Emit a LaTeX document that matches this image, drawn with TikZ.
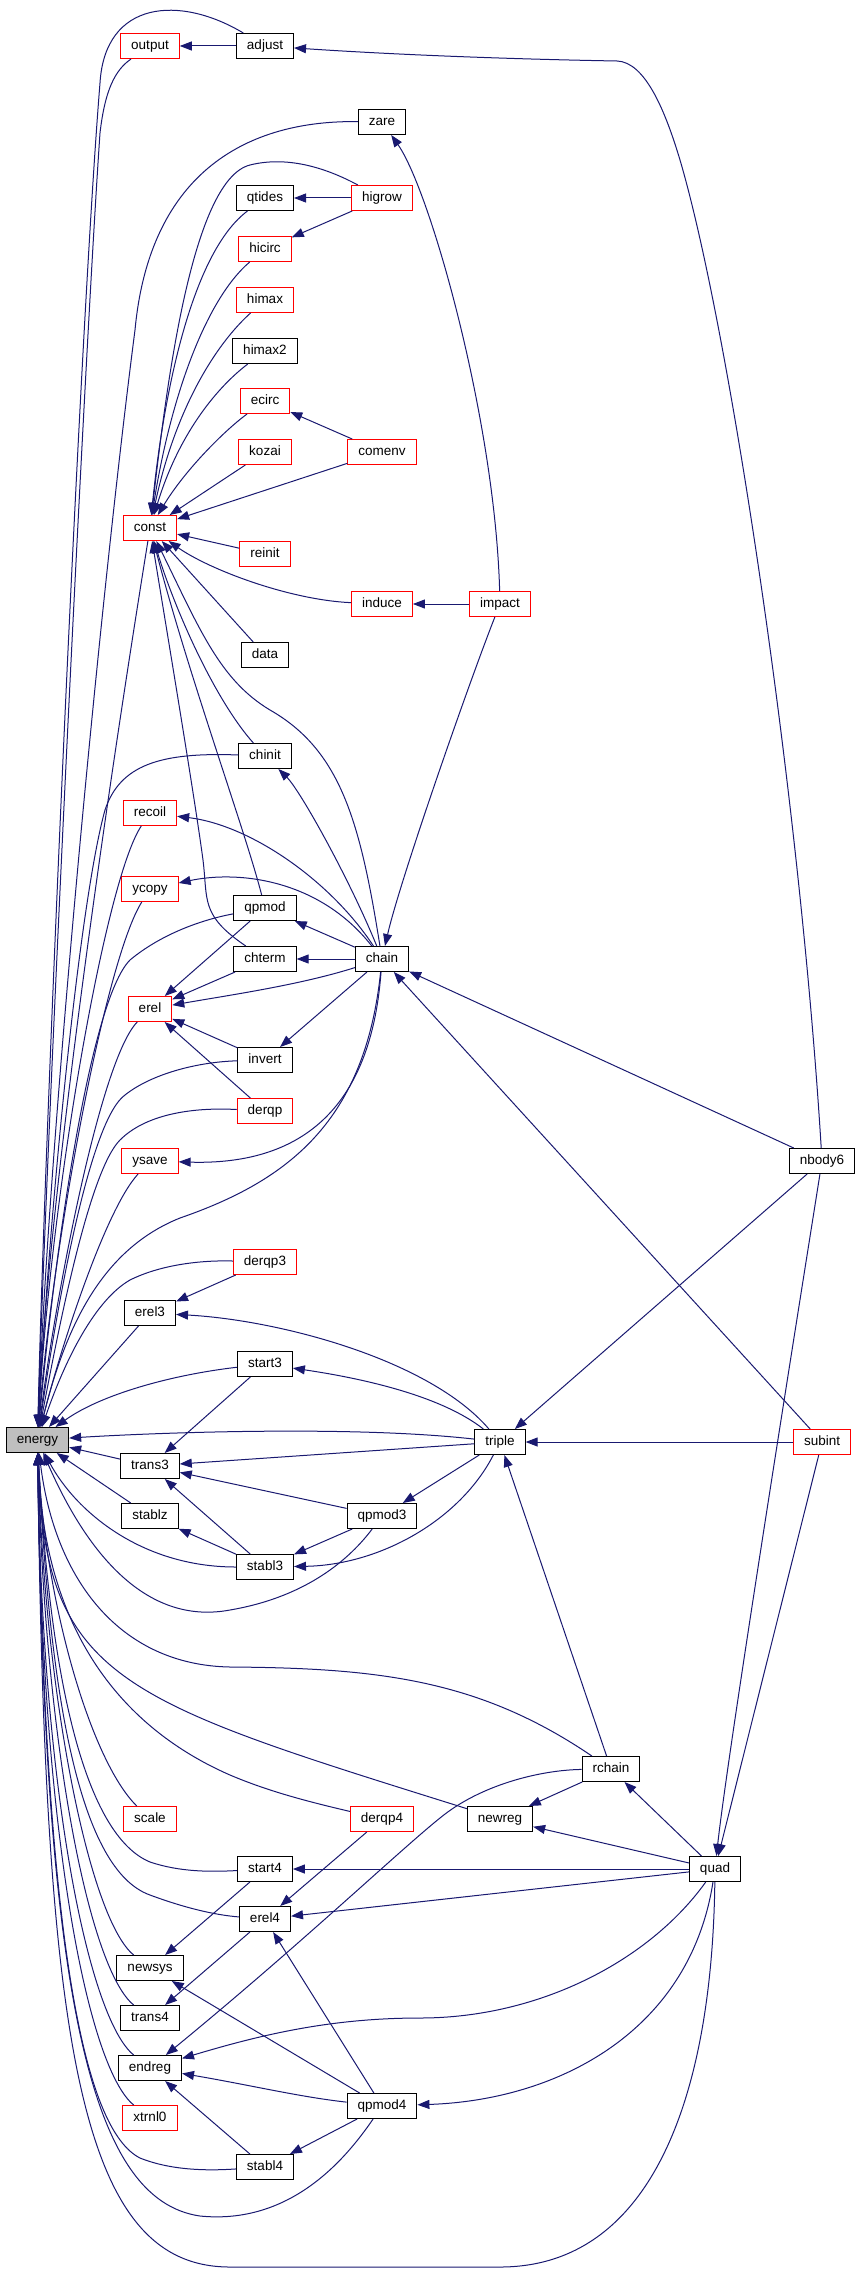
\documentclass[tikz,border=0pt]{standalone}
\usepackage{fontspec}
\newfontfamily\lab{Liberation Sans}
\usetikzlibrary{arrows.meta}
\definecolor{edgec}{HTML}{191970}
\definecolor{fillg}{HTML}{BFBFBF}
\begin{document}
\begin{tikzpicture}[x=1pt,y=-1pt,
 fn/.style={draw=black, line width=1pt, fill=white, minimum height=25pt, inner xsep=10.5pt, inner ysep=0pt, text height=9.5pt, text depth=2.5pt, font=\lab\fontsize{13.5pt}{16pt}\selectfont},
 fr/.style={fn, draw=red},
 fg/.style={fn, fill=fillg},
 ed/.style={draw=edgec, line width=1pt, {Triangle[length=12pt,width=9pt]}-}]
\useasboundingbox (0,0) rectangle (861,2282);
% column 0
\node[fg] (energy) at (37.5,1440) {energy};
% column 1
\node[fr] (output) at (150,46) {output};
\node[fr] (const) at (150,528) {const};
\node[fr] (recoil) at (150,813) {recoil};
\node[fr] (ycopy) at (150,889) {ycopy};
\node[fr] (erel) at (150,1009) {erel};
\node[fr] (ysave) at (150,1161) {ysave};
\node[fn] (erel3) at (150,1313) {erel3};
\node[fn] (trans3) at (150,1466) {trans3};
\node[fn] (stablz) at (150,1516) {stablz};
\node[fr] (scale) at (150,1819) {scale};
\node[fn] (newsys) at (150,1968) {newsys};
\node[fn] (trans4) at (150,2018) {trans4};
\node[fn] (endreg) at (150,2068) {endreg};
\node[fr] (xtrnl0) at (150,2118) {xtrnl0};
% column 2
\node[fn] (adjust) at (265,46) {adjust};
\node[fn] (qtides) at (265,198) {qtides};
\node[fr] (hicirc) at (265,249) {hicirc};
\node[fr] (himax) at (265,300) {himax};
\node[fn] (himax2) at (265,351) {himax2};
\node[fr] (ecirc) at (265,401) {ecirc};
\node[fr] (kozai) at (265,452) {kozai};
\node[fr] (reinit) at (265,554) {reinit};
\node[fn] (data) at (265,655) {data};
\node[fn] (chinit) at (265,756) {chinit};
\node[fn] (qpmod) at (265,908) {qpmod};
\node[fn] (chterm) at (265,959) {chterm};
\node[fn] (invert) at (265,1060) {invert};
\node[fr] (derqp) at (265,1111) {derqp};
\node[fr] (derqp3) at (265,1262) {derqp3};
\node[fn] (start3) at (265,1364) {start3};
\node[fn] (stabl3) at (265,1567) {stabl3};
\node[fn] (start4) at (265,1869) {start4};
\node[fn] (erel4) at (265,1919) {erel4};
\node[fn] (stabl4) at (265,2167) {stabl4};
% column 3
\node[fn] (zare) at (382,122) {zare};
\node[fr] (higrow) at (382,198) {higrow};
\node[fr] (comenv) at (382,452) {comenv};
\node[fr] (induce) at (382,604) {induce};
\node[fn] (chain) at (382,959) {chain};
\node[fn] (qpmod3) at (382,1516) {qpmod3};
\node[fr] (derqp4) at (382,1819) {derqp4};
\node[fn] (qpmod4) at (382,2106) {qpmod4};
% column 4+
\node[fr] (impact) at (500,604) {impact};
\node[fn] (triple) at (500,1442) {triple};
\node[fn] (newreg) at (500,1819) {newreg};
\node[fn] (rchain) at (611,1769) {rchain};
\node[fn] (quad) at (715,1869) {quad};
\node[fn] (nbody6) at (822,1161) {nbody6};
\node[fr] (subint) at (822,1442) {subint};

% ---- callers of energy
\draw[ed] (energy) .. controls (44,1150) and (80,330) .. (100,83) .. controls (105,0) and (180,-5) .. (adjust);
\draw[ed] (energy) .. controls (46,1150) and (85,350) .. (100,133) .. controls (105,90) and (115,70) .. (output);
\draw[ed] (energy) .. controls (48,1150) and (100,600) .. (135,330) .. controls (150,170) and (250,120) .. (zare);
\draw[ed] (energy) .. controls (45,1250) and (90,900) .. (const);
\draw[ed] (energy) .. controls (50,1200) and (80,900) .. (105,810) .. controls (120,765) and (160,752) .. (chinit);
\draw[ed] (energy) .. controls (50,1200) and (105,880) .. (recoil);
\draw[ed] (energy) .. controls (52,1250) and (105,960) .. (ycopy);
\draw[ed] (energy) .. controls (55,1250) and (90,1000) .. (130,960) .. controls (160,935) and (200,920) .. (qpmod);
\draw[ed] (energy) .. controls (55,1300) and (100,1060) .. (erel);
\draw[ed] (energy) .. controls (58,1300) and (90,1120) .. (125,1095) .. controls (150,1075) and (195,1062) .. (invert);
\draw[ed] (energy) .. controls (60,1320) and (90,1170) .. (120,1140) .. controls (145,1115) and (190,1107) .. (derqp);
\draw[ed] (energy) .. controls (60,1350) and (105,1210) .. (ysave);
\draw[ed] (energy) .. controls (65,1330) and (100,1250) .. (180,1218) .. controls (290,1180) and (365,1120) .. (chain);
\draw[ed] (energy) .. controls (65,1360) and (95,1300) .. (130,1280) .. controls (160,1265) and (200,1260) .. (derqp3);
\draw[ed] (energy) -- (erel3);
\draw[ed] (energy) .. controls (100,1395) and (170,1375) .. (start3);
\draw[ed] (energy) .. controls (150,1433) and (350,1425) .. (triple);
\draw[ed] (energy) -- (trans3);
\draw[ed] (energy) -- (stablz);
\draw[ed] (energy) .. controls (75,1510) and (140,1567) .. (stabl3);
\draw[ed] (energy) .. controls (90,1560) and (150,1625) .. (230,1610) .. controls (300,1598) and (345,1565) .. (qpmod3);
\draw[ed] (energy) .. controls (55,1580) and (120,1665) .. (230,1667) .. controls (380,1668) and (480,1680) .. (rchain);
\draw[ed] (energy) .. controls (45,1680) and (120,1700) .. (newreg);
\draw[ed] (energy) .. controls (45,1660) and (150,1740) .. (230,1775) .. controls (270,1792) and (310,1802) .. (derqp4);
\draw[ed] (energy) .. controls (45,1600) and (90,1760) .. (scale);
\draw[ed] (energy) .. controls (50,1680) and (85,1835) .. (150,1862) .. controls (180,1872) and (210,1872) .. (start4);
\draw[ed] (energy) .. controls (50,1700) and (80,1870) .. (150,1895) .. controls (185,1908) and (215,1915) .. (erel4);
\draw[ed] (energy) .. controls (45,1700) and (90,1920) .. (newsys);
\draw[ed] (energy) .. controls (45,1750) and (90,1970) .. (trans4);
\draw[ed] (energy) .. controls (42,1800) and (90,2020) .. (endreg);
\draw[ed] (energy) .. controls (42,1850) and (90,2070) .. (xtrnl0);
\draw[ed] (energy) .. controls (45,1950) and (85,2130) .. (140,2158) .. controls (170,2170) and (205,2171) .. (stabl4);
\draw[ed] (energy) .. controls (45,2000) and (90,2200) .. (200,2216) .. controls (290,2225) and (345,2160) .. (qpmod4);
\draw[ed] (energy) .. controls (45,2050) and (80,2267) .. (230,2267) -- (500,2267) .. controls (650,2267) and (712,2100) .. (quad);

% ---- callers of const
\draw[ed] (const) .. controls (165,400) and (190,180) .. (250,165) .. controls (290,155) and (330,170) .. (higrow);
\draw[ed] (const) .. controls (165,380) and (195,250) .. (qtides);
\draw[ed] (const) .. controls (170,400) and (205,300) .. (hicirc);
\draw[ed] (const) .. controls (175,410) and (215,345) .. (himax);
\draw[ed] (const) .. controls (180,430) and (220,385) .. (himax2);
\draw[ed] (const) .. controls (185,470) and (225,430) .. (ecirc);
\draw[ed] (const) -- (kozai);
\draw[ed] (const) -- (comenv);
\draw[ed] (const) -- (reinit);
\draw[ed] (const) .. controls (210,570) and (290,600) .. (induce);
\draw[ed] (const) -- (data);
\draw[ed] (const) .. controls (175,610) and (215,700) .. (chinit);
\draw[ed] (const) .. controls (200,630) and (220,680) .. (270,710) .. controls (340,750) and (360,820) .. (chain);
\draw[ed] (const) .. controls (170,650) and (195,800) .. (203,860) .. controls (208,900) and (200,915) .. (chterm);
\draw[ed] (const) .. controls (190,680) and (245,830) .. (qpmod);

% ---- other calls
\draw[ed] (output) -- (adjust);
\draw[ed] (adjust) .. controls (430,57) and (560,60) .. (617,61) .. controls (645,62) and (665,110) .. (680,160) .. controls (730,330) and (800,800) .. (nbody6);
\draw[ed] (qtides) -- (higrow);
\draw[ed] (hicirc) -- (higrow);
\draw[ed] (zare) .. controls (430,190) and (495,420) .. (impact);
\draw[ed] (ecirc) -- (comenv);
\draw[ed] (induce) -- (impact);
\draw[ed] (chinit) .. controls (300,790) and (350,880) .. (chain);
\draw[ed] (recoil) .. controls (250,825) and (330,880) .. (chain);
\draw[ed] (ycopy) .. controls (240,870) and (320,880) .. (chain);
\draw[ed] (qpmod) -- (chain);
\draw[ed] (chterm) -- (chain);
\draw[ed] (erel) .. controls (230,995) and (300,985) .. (chain);
\draw[ed] (invert) -- (chain);
\draw[ed] (ysave) .. controls (290,1165) and (370,1120) .. (chain);
\draw[ed] (erel) -- (qpmod);
\draw[ed] (erel) -- (chterm);
\draw[ed] (erel) -- (invert);
\draw[ed] (erel) -- (derqp);
\draw[ed] (chain) .. controls (400,880) and (470,680) .. (impact);
\draw[ed] (chain) -- (nbody6);
\draw[ed] (chain) -- (subint);
\draw[ed] (erel3) -- (derqp3);
\draw[ed] (erel3) .. controls (280,1320) and (430,1360) .. (triple);
\draw[ed] (start3) .. controls (360,1378) and (440,1395) .. (triple);
\draw[ed] (trans3) -- (start3);
\draw[ed] (trans3) -- (triple);
\draw[ed] (trans3) -- (qpmod3);
\draw[ed] (trans3) -- (stabl3);
\draw[ed] (stablz) -- (stabl3);
\draw[ed] (stabl3) -- (qpmod3);
\draw[ed] (stabl3) .. controls (380,1565) and (460,1520) .. (triple);
\draw[ed] (qpmod3) -- (triple);
\draw[ed] (triple) -- (nbody6);
\draw[ed] (triple) -- (subint);
\draw[ed] (triple) -- (rchain);
\draw[ed] (endreg) .. controls (300,1945) and (400,1850) .. (440,1818) .. controls (480,1785) and (540,1770) .. (rchain);
\draw[ed] (newreg) -- (rchain);
\draw[ed] (rchain) -- (quad);
\draw[ed] (newreg) -- (quad);
\draw[ed] (quad) .. controls (728,1750) and (800,1300) .. (nbody6);
\draw[ed] (quad) -- (subint);
\draw[ed] (start4) -- (quad);
\draw[ed] (erel4) -- (quad);
\draw[ed] (endreg) .. controls (260,2035) and (330,2018) .. (420,2018) .. controls (540,2018) and (650,1960) .. (quad);
\draw[ed] (qpmod4) .. controls (560,2100) and (690,2030) .. (quad);
\draw[ed] (erel4) -- (derqp4);
\draw[ed] (newsys) -- (start4);
\draw[ed] (trans4) -- (erel4);
\draw[ed] (newsys) -- ([xshift=13pt]qpmod4.north west);
\draw[ed] (erel4) -- (qpmod4);
\draw[ed] (endreg) .. controls (250,2085) and (300,2097) .. (qpmod4);
\draw[ed] (endreg) -- (stabl4);
\draw[ed] (stabl4) -- (qpmod4);
\end{tikzpicture}
\end{document}
